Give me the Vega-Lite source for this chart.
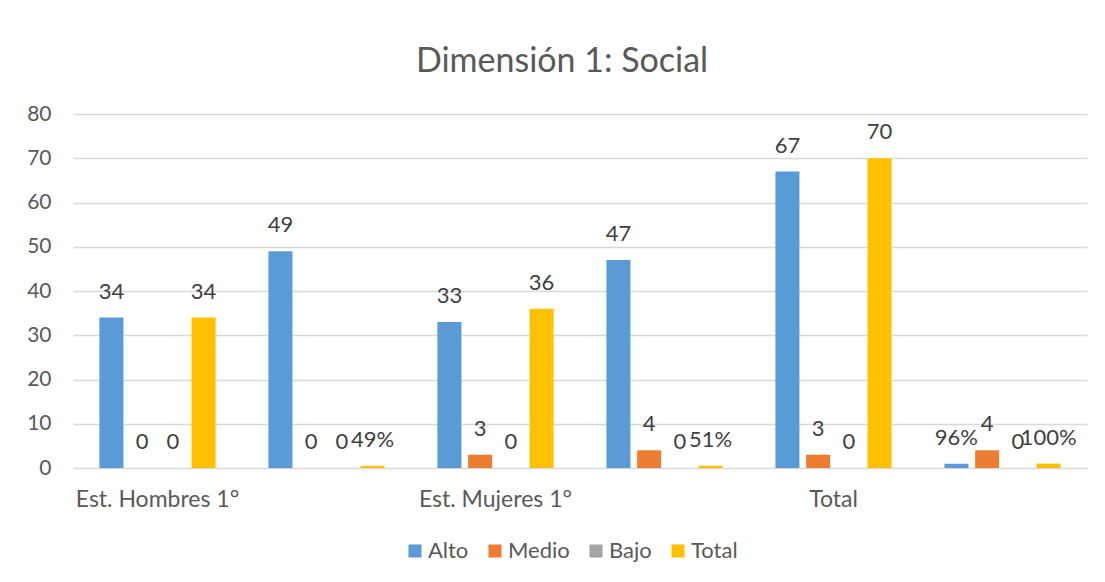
{
  "$schema": "https://vega.github.io/schema/vega-lite/v6.json",
  "width": 1014,
  "height": 354,
  "autosize": "none",
  "padding": {"left": 73, "top": 114, "right": 18, "bottom": 114},
  "background": "white",
  "title": {"text": "Dimensión 1: Social", "fontSize": 34, "font": "Lato", "fontWeight": "normal", "color": "#595959", "anchor": "middle", "dx": -18, "offset": 24},
  "data": {"values": [
    {"grupo": "Est. Hombres 1°", "nivel": "Alto", "valor": 34, "etiqueta": "34"},
    {"grupo": "Est. Hombres 1°", "nivel": "Medio", "valor": 0, "etiqueta": "0"},
    {"grupo": "Est. Hombres 1°", "nivel": "Bajo", "valor": 0, "etiqueta": "0"},
    {"grupo": "Est. Hombres 1°", "nivel": "Total", "valor": 34, "etiqueta": "34"},
    {"grupo": "Est. Hombres 1° %", "nivel": "Alto", "valor": 49, "etiqueta": "49"},
    {"grupo": "Est. Hombres 1° %", "nivel": "Medio", "valor": 0, "etiqueta": "0"},
    {"grupo": "Est. Hombres 1° %", "nivel": "Bajo", "valor": 0, "etiqueta": "0"},
    {"grupo": "Est. Hombres 1° %", "nivel": "Total", "valor": 0.49, "etiqueta": "49%"},
    {"grupo": "Est. Mujeres 1°", "nivel": "Alto", "valor": 33, "etiqueta": "33"},
    {"grupo": "Est. Mujeres 1°", "nivel": "Medio", "valor": 3, "etiqueta": "3"},
    {"grupo": "Est. Mujeres 1°", "nivel": "Bajo", "valor": 0, "etiqueta": "0"},
    {"grupo": "Est. Mujeres 1°", "nivel": "Total", "valor": 36, "etiqueta": "36"},
    {"grupo": "Est. Mujeres 1° %", "nivel": "Alto", "valor": 47, "etiqueta": "47"},
    {"grupo": "Est. Mujeres 1° %", "nivel": "Medio", "valor": 4, "etiqueta": "4"},
    {"grupo": "Est. Mujeres 1° %", "nivel": "Bajo", "valor": 0, "etiqueta": "0"},
    {"grupo": "Est. Mujeres 1° %", "nivel": "Total", "valor": 0.51, "etiqueta": "51%"},
    {"grupo": "Total", "nivel": "Alto", "valor": 67, "etiqueta": "67"},
    {"grupo": "Total", "nivel": "Medio", "valor": 3, "etiqueta": "3"},
    {"grupo": "Total", "nivel": "Bajo", "valor": 0, "etiqueta": "0"},
    {"grupo": "Total", "nivel": "Total", "valor": 70, "etiqueta": "70"},
    {"grupo": "Total %", "nivel": "Alto", "valor": 0.96, "etiqueta": "96%"},
    {"grupo": "Total %", "nivel": "Medio", "valor": 4, "etiqueta": "4"},
    {"grupo": "Total %", "nivel": "Bajo", "valor": 0, "etiqueta": "0"},
    {"grupo": "Total %", "nivel": "Total", "valor": 1, "etiqueta": "100%"}
  ]},
  "encoding": {
    "x": {
      "field": "grupo", "type": "nominal", "sort": null,
      "scale": {"paddingInner": 0, "paddingOuter": 0},
      "axis": {"title": null, "ticks": false, "domain": true, "domainColor": "#D9D9D9", "labelAngle": 0, "labelPadding": 20, "labelFontSize": 23, "labelFont": "Lato", "labelColor": "#595959", "labelOverlap": false, "labelExpr": "indexof(datum.label, '%') >= 0 ? '' : datum.label"}
    },
    "xOffset": {"field": "nivel", "type": "nominal", "sort": ["Alto", "Medio", "Bajo", "Total"], "scale": {"paddingInner": 0.218, "paddingOuter": 0.86}},
    "y": {
      "field": "valor", "type": "quantitative",
      "scale": {"domain": [0, 80], "nice": false},
      "axis": {"title": null, "values": [0, 10, 20, 30, 40, 50, 60, 70, 80], "labelOverlap": false, "grid": true, "gridColor": "#D9D9D9", "gridWidth": 1.5, "domain": false, "ticks": false, "labelPadding": 22, "labelFontSize": 21, "labelFont": "Lato", "labelColor": "#595959"}
    }
  },
  "layer": [
    {
      "mark": {"type": "bar"},
      "encoding": {
        "color": {
          "field": "nivel", "type": "nominal",
          "scale": {"domain": ["Alto", "Medio", "Bajo", "Total"], "range": ["#5B9BD5", "#ED7D31", "#A5A5A5", "#FFC000"]},
          "legend": {"title": null, "orient": "none", "legendX": 331, "legendY": 426, "direction": "horizontal", "symbolType": "square", "symbolSize": 170, "symbolStrokeWidth": 0, "labelFontSize": 22, "labelFont": "Lato", "labelColor": "#595959", "columnPadding": 15, "labelOffset": 2}
        }
      }
    },
    {
      "mark": {"type": "text", "dy": -26, "baseline": "middle", "align": "center", "fontSize": 22, "font": "Lato", "color": "#404040"},
      "encoding": {"text": {"field": "etiqueta", "type": "nominal"}}
    }
  ],
  "config": {
    "view": {"stroke": null}
  }
}
